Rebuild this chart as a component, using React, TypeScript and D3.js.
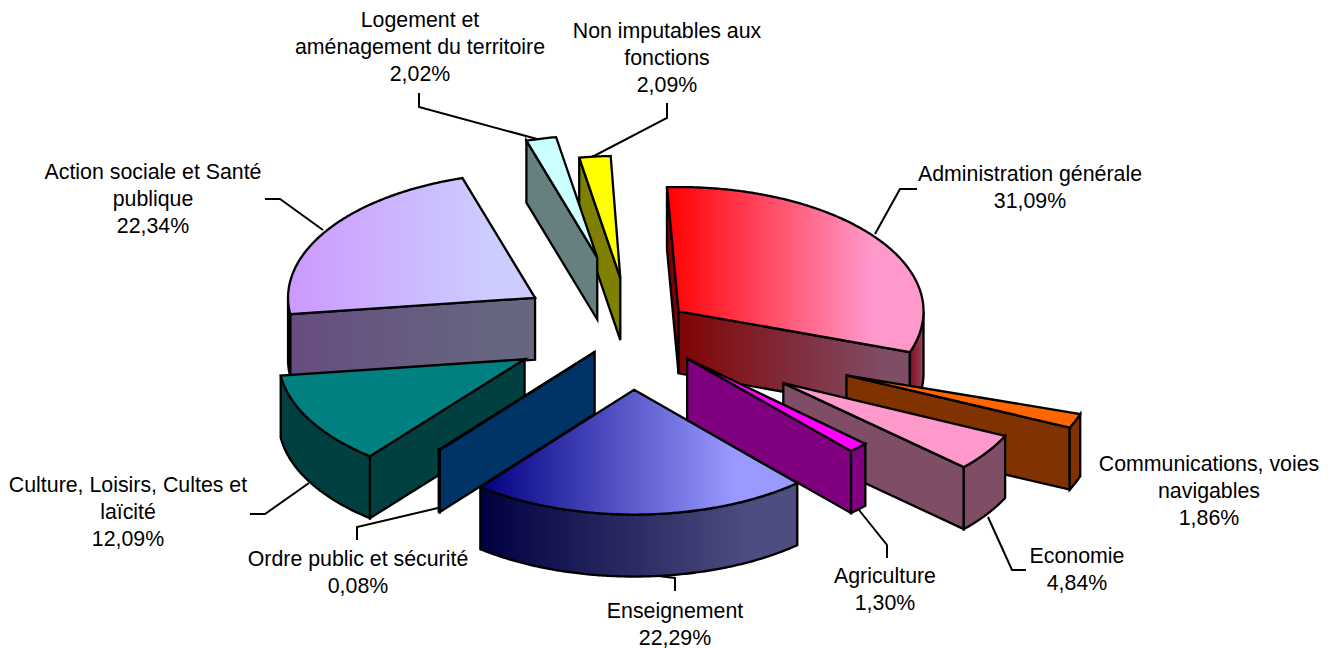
import React from "react";
import * as d3 from "d3";

const categories = ["Administration générale","Communications, voies navigables","Economie","Agriculture","Enseignement","Ordre public et sécurité","Culture, Loisirs, Cultes et laïcité","Action sociale et Santé publique","Logement et aménagement du territoire","Non imputables aux fonctions"];
const values = [31.09, 1.86, 4.84, 1.30, 22.29, 0.08, 12.09, 22.34, 2.02, 2.09];
const explosion = [59, 234, 186, 81, 120, 58, 122, 114, 145, 101];
const radii = [245, 246, 245, 245, 246, 248, 246, 247, 241, 241];
const angleNudge = [-0.4, -1.5, -1.2, -0.4, 0, 0, 0, 0, 0, 0];
const topFrom = ["#ff0000","#ff6600","#ff99cc","#ff00ff","#000080","#0066cc","#008080","#cc99ff","#ccffff","#ffff00"];
const topTo = ["#ff99cc","#ff6600","#ff99cc","#ff00ff","#9999ff","#0066cc","#008080","#ccccff","#ccffff","#ffff00"];
const wallFrom = ["#800000","#803300","#804d66","#800080","#000040","#003366","#004040","#664d80","#668080","#808000"];
const wallTo = ["#804d66","#803300","#804d66","#800080","#4d4d80","#003366","#004040","#666680","#668080","#808000"];
const labelLines = [["Administration générale"],["Communications, voies","navigables"],["Economie"],["Agriculture"],["Enseignement"],["Ordre public et sécurité"],["Culture, Loisirs, Cultes et","laïcité"],["Action sociale et Santé","publique"],["Logement et","aménagement du territoire"],["Non imputables aux","fonctions"]];
const labelAnchors: [number, number][] = [[1030,181],[1209,471],[1077,563],[885,583],[675,618],[358,566],[128,492],[153,179],[420,27],[667,38]];
const leaders: [number, number][][] = [
  [[917,189],[900,189],[875,234]],
  [],
  [[988,517],[1012,570],[1026,570]],
  [[859,510],[887,545],[887,558]],
  [[650,575],[675,578],[675,591]],
  [[438,508],[357,527],[357,540]],
  [[309,483],[265,514],[250,514]],
  [[265,199],[280,199],[323,230]],
  [[419,93],[419,107],[537,139]],
  [[667,103],[667,118],[592,157]],
];
const drawOrder = [9, 8, 0, 7, 1, 2, 3, 6, 5, 4];

const CX = 631, CY = 329, K = 0.507, DEPTH = 62;
const LINE = 27;
const rad = (deg: number) => (deg * Math.PI) / 180;

const arcs = d3.pie<number>().sort(null).startAngle(rad(-2.3)).endAngle(rad(357.7))(values);
const pathOf = d3.line<[number, number]>();
const closed = (pts: [number, number][]) => (pathOf(pts) as string) + "Z";

export default function App() {
  const slices = arcs.map((a, i) => {
    const nudge = rad(angleNudge[i]);
    const a0 = a.startAngle + nudge, a1 = a.endAngle + nudge;
    const mid = (a.startAngle + a.endAngle) / 2;
    const R = radii[i];
    const ax = CX + explosion[i] * Math.sin(mid);
    const ay = CY - explosion[i] * Math.cos(mid) * K;
    const pt = (t: number, dz = 0): [number, number] => [ax + R * Math.sin(t), ay - R * K * Math.cos(t) + dz];
    const sample = (t0: number, t1: number) => {
      const n = Math.max(2, Math.ceil((t1 - t0) / rad(0.5)));
      return d3.range(n + 1).map((j) => t0 + ((t1 - t0) * j) / n);
    };
    const rim = sample(a0, a1).map((t) => pt(t));
    const top = closed([[ax, ay], ...rim]);
    const faces: string[] = [];
    if (Math.sin(a0) < 0) faces.push(closed([[ax, ay], pt(a0), pt(a0, DEPTH), [ax, ay + DEPTH]]));
    if (Math.sin(a1) > 0) faces.push(closed([[ax, ay], pt(a1), pt(a1, DEPTH), [ax, ay + DEPTH]]));
    let outer: string | null = null;
    const o0 = Math.max(a0, Math.PI / 2), o1 = Math.min(a1, (3 * Math.PI) / 2);
    if (o1 > o0) {
      const s = sample(o0, o1);
      outer = closed([...s.map((t) => pt(t)), ...s.slice().reverse().map((t) => pt(t, DEPTH))]);
    }
    const xs = [ax, ...rim.map((p) => p[0])];
    return { i, top, faces, outer, x0: d3.min(xs) as number, x1: d3.max(xs) as number };
  });

  const stroke = { stroke: "#000", strokeWidth: 2.3, strokeLinejoin: "miter" as const, strokeMiterlimit: 6 };

  return (
    <svg width={1336} height={648} style={{ position: "absolute", left: 0, top: 0, display: "block" }} fontFamily="'Liberation Sans', Arial, sans-serif" fontSize={21.33}>
      <defs>
        {slices.map((s) => (
          <React.Fragment key={s.i}>
            <linearGradient id={`t${s.i}`} gradientUnits="userSpaceOnUse" x1={s.x0} x2={s.x1} y1={0} y2={0}>
              <stop offset="0" stopColor={topFrom[s.i]} />
              <stop offset="0.8" stopColor={topTo[s.i]} />
            </linearGradient>
            <linearGradient id={`w${s.i}`} gradientUnits="userSpaceOnUse" x1={s.x0} x2={s.x1} y1={0} y2={0}>
              <stop offset="0" stopColor={wallFrom[s.i]} />
              <stop offset="0.85" stopColor={wallTo[s.i]} />
            </linearGradient>
          </React.Fragment>
        ))}
        <linearGradient id="adminOuter">
          <stop offset="0" stopColor="#801020" />
          <stop offset="1" stopColor="#994060" />
        </linearGradient>
      </defs>
      {leaders.map((l, i) => l.length > 0 && (
        <path key={i} d={pathOf(l) as string} fill="none" stroke="#000" strokeWidth={2} />
      ))}
      {drawOrder.map((i) => {
        const s = slices[i];
        return (
          <g key={i}>
            {s.faces.map((f, j) => <path key={j} d={f} fill={`url(#w${i})`} {...stroke} />)}
            {s.outer && <path d={s.outer} fill={i === 0 ? "url(#adminOuter)" : `url(#w${i})`} {...stroke} />}
            <path d={s.top} fill={`url(#t${i})`} {...stroke} />
          </g>
        );
      })}
      {categories.map((c, i) => {
        const lines = [...labelLines[i], values[i].toFixed(2).replace(".", ",") + "%"];
        return (
          <text key={c} textAnchor="middle" fill="#000">
            {lines.map((t, j) => (
              <tspan key={j} x={labelAnchors[i][0]} y={labelAnchors[i][1] + j * LINE}>{t}</tspan>
            ))}
          </text>
        );
      })}
    </svg>
  );
}
